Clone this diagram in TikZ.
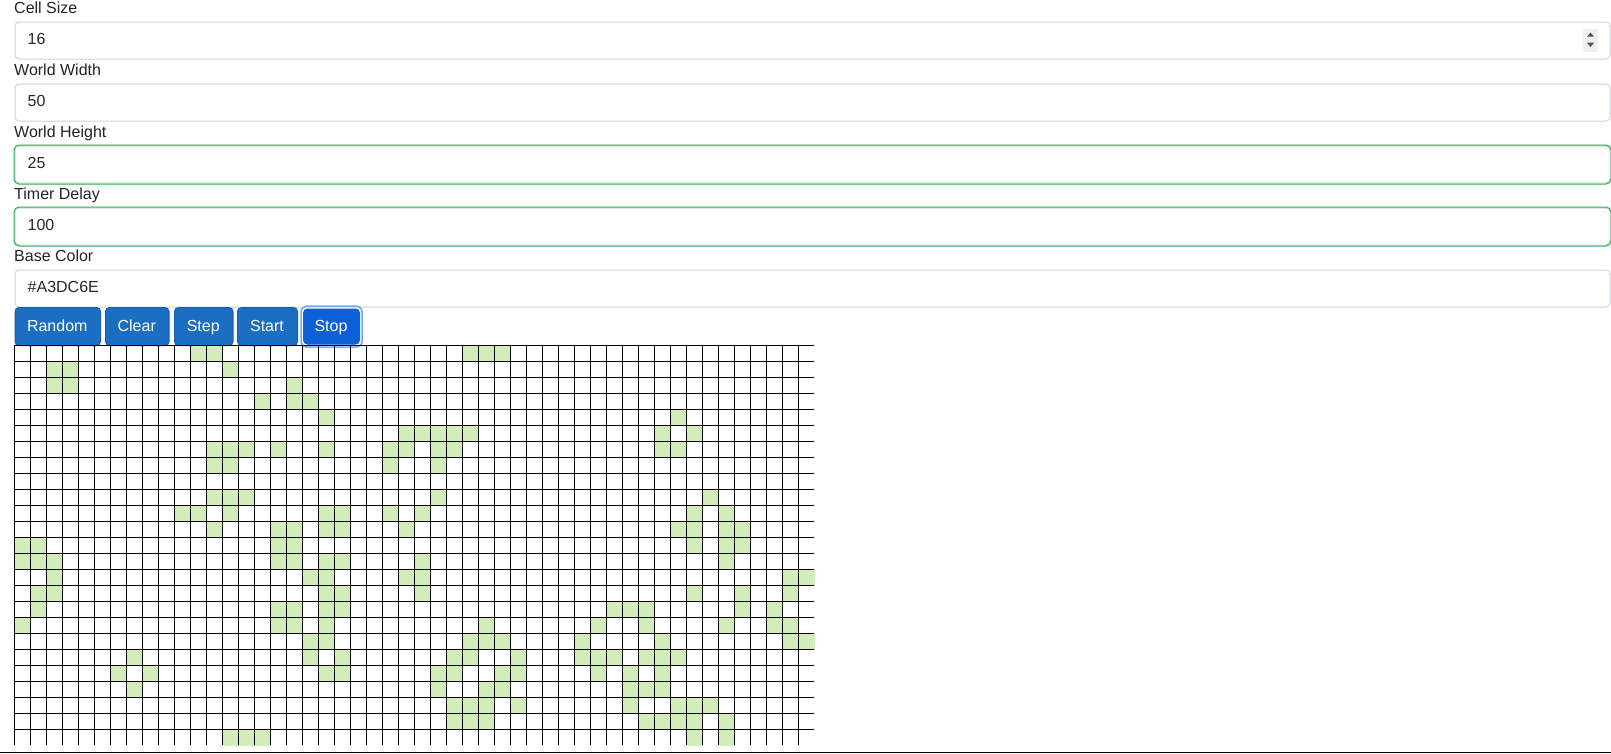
\documentclass[tikz,border=0pt]{standalone}
\usepackage{fontspec}
\setmainfont{Liberation Sans}
\definecolor{labelc}{RGB}{33,37,41}
\definecolor{valc}{RGB}{36,40,44}
\definecolor{inborder}{RGB}{206,212,218}
\definecolor{okgreen}{RGB}{38,176,80}
\definecolor{btnbg}{RGB}{27,110,194}
\definecolor{btnbd}{RGB}{24,97,172}
\definecolor{stopbg}{RGB}{14,96,216}
\definecolor{ringc}{RGB}{110,170,250}
\definecolor{cellg}{RGB}{209,237,186}
\definecolor{spinbg}{RGB}{240,240,240}
\definecolor{spinfg}{RGB}{80,80,80}
\tikzset{
  lbl/.style={anchor=base west,inner sep=0pt,text=labelc,font=\fontsize{16pt}{19pt}\selectfont},
  val/.style={anchor=base west,inner sep=0pt,text=valc,font=\fontsize{16pt}{19pt}\selectfont},
  inbox/.style={draw=inborder,line width=1pt,rounded corners=4pt,fill=white,anchor=north west,
    minimum width=1595pt,minimum height=37pt,inner sep=0pt},
  okbox/.style={draw=okgreen,line width=1pt,rounded corners=5pt,anchor=north west,
    minimum width=1597pt,minimum height=39pt,inner sep=0pt},
  btn/.style={fill=btnbg,draw=btnbd,line width=1pt,rounded corners=4pt,anchor=north west,
    minimum height=38pt,inner sep=0pt},
  btntext/.style={anchor=base,inner sep=0pt,text=white,font=\fontsize{16pt}{19pt}\selectfont},
  gridline/.style={black,line width=1pt},
  cell/.style={fill=cellg}
}
\begin{document}
\begin{tikzpicture}[x=1pt,y=-1pt]
\useasboundingbox[fill=white] (0,0) rectangle (1611,753);

% ---- input fields ----
\foreach \i/\lab/\v in {0/Cell Size/16, 1/World Width/50, 2/World Height/25, 3/Timer Delay/100, 4/Base Color/\#A3DC6E}{
  \node[lbl] (lab\i) at (14,{13.5+62*\i}) {\lab};
  \node[inbox] (in\i) at (14.5,{21.5+62*\i}) {};
  \node[val] (val\i) at (27.5,{44.5+62*\i}) {\v};
}
\node[okbox] (ok2) at (13.5,{20.5+62*2}) {};
\node[okbox] (ok3) at (13.5,{20.5+62*3}) {};

% spinner of the first field
\node[fill=spinbg,anchor=north west,minimum width=15pt,minimum height=23.5pt,inner sep=0pt] (spin) at (1583,28.3) {};
\fill[spinfg] (1587,36.7) -- (1594,36.7) -- (1590.5,32.7) -- cycle;
\fill[spinfg] (1587,42.7) -- (1594,42.7) -- (1590.5,47) -- cycle;

% ---- buttons ----
\node[btn,minimum width=85.5pt] (bRandom) at (14.5,307) {};
\node[btntext] (tRandom) at (57.25,331.3) {Random};
\node[btn,minimum width=63.5pt] (bClear) at (105,307) {};
\node[btntext] (tClear) at (136.75,331.3) {Clear};
\node[btn,minimum width=58.5pt] (bStep) at (174,307) {};
\node[btntext] (tStep) at (203.25,331.3) {Step};
\node[btn,minimum width=60pt] (bStart) at (237,307) {};
\node[btntext] (tStart) at (267,331.3) {Start};
\node[draw=ringc,line width=1.6pt,rounded corners=6pt,anchor=north west,minimum width=61pt,minimum height=41pt,inner sep=0pt] (ring) at (300.3,305.3) {};
\node[btn,fill=stopbg,draw=stopbg,minimum width=56pt,minimum height=35pt] (bStop) at (303,308.5) {};
\node[btntext] (tStop) at (331,331.3) {Stop};

% ---- world grid ----
\foreach \r/\cols in {
  0/{11,12,28,29,30},
  1/{2,3,13},
  2/{2,3,17},
  3/{15,17,18},
  4/{19,41},
  5/{24,25,26,27,28,40,42},
  6/{12,13,14,16,19,23,24,26,27,40,41},
  7/{12,13,23,26},
  9/{12,13,14,26,43},
  10/{10,11,13,19,20,23,25,42,44},
  11/{12,16,17,19,20,24,41,42,44,45},
  12/{0,1,16,17,42,44,45},
  13/{0,1,2,16,17,19,20,25,44},
  14/{2,18,19,24,25,48,49},
  15/{1,2,19,20,25,42,45,48},
  16/{1,16,17,19,20,37,38,39,45,47},
  17/{0,16,17,19,29,36,39,44,47,48},
  18/{18,19,28,29,30,35,40,48,49},
  19/{7,18,20,27,28,31,35,36,37,39,40,41},
  20/{6,8,19,20,26,27,30,31,36,38,40},
  21/{7,26,29,30,38,39,40},
  22/{27,28,29,31,38,41,42,43},
  23/{27,28,29,39,40,41,42,44},
  24/{13,14,15,42,44}}{
  \foreach \c in \cols {
    \fill[cell] ({14.5+16*\c},{345.5+16*\r}) rectangle ++(16,16);
  }
}
\foreach \c in {0,...,49}{
  \draw[gridline] ({14.5+16*\c},345) -- ({14.5+16*\c},745);
}
\foreach \r in {0,...,24}{
  \draw[gridline] (14,{345.5+16*\r}) -- (814,{345.5+16*\r});
}
\coordinate (bl) at (0,752.2);
\coordinate (br) at (1611,752.2);
\draw[black,line width=1.4pt] (bl) -- (br);
\end{tikzpicture}
\end{document}
